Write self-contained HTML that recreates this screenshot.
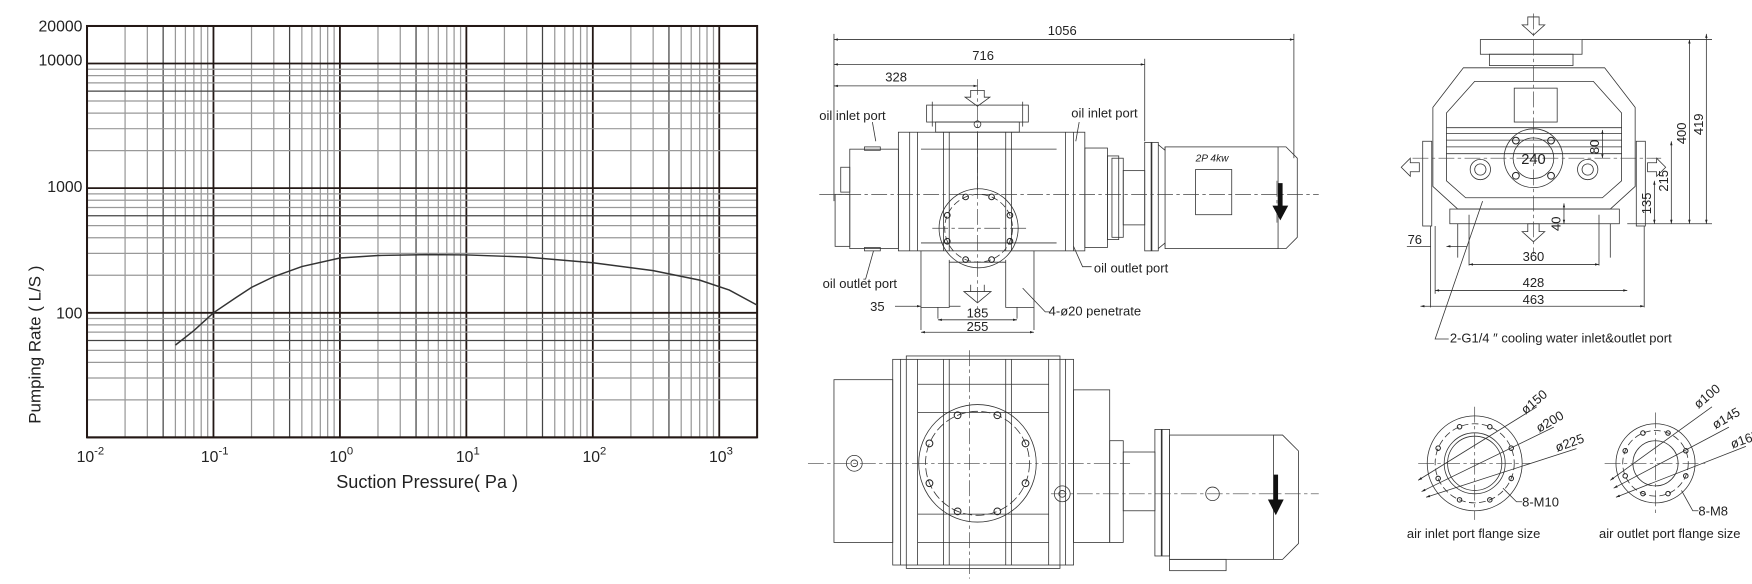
<!DOCTYPE html>
<html><head><meta charset="utf-8"><style>
html,body{margin:0;padding:0;background:#fff;}
svg{display:block;}
text{font-family:"Liberation Sans",sans-serif;fill:#222;}
</style></head><body>
<svg id="s" width="1752" height="584" viewBox="0 0 1550.4 516.8" xmlns="http://www.w3.org/2000/svg">
<defs>
<marker id="ar" viewBox="0 0 10 10" refX="10" refY="5" markerWidth="7" markerHeight="5" orient="auto-start-reverse"><path d="M0,2 L10,5 L0,8 z" fill="#222"/></marker>
</defs>
<g id="grid"></g>
<rect x="77" y="23" width="593" height="364" fill="none" stroke="#231815" stroke-width="1.8"/>
<path id="curve" fill="none" stroke="#333" stroke-width="1.3"/>
<g font-size="14" text-anchor="end">
<text x="73" y="28">20000</text><text x="73" y="58">10000</text><text x="73" y="170">1000</text><text x="73" y="282">100</text>
</g>
<g font-size="14" text-anchor="middle">
<text x="80" y="409">10<tspan dy="-7" font-size="10">-2</tspan></text>
<text x="190" y="409">10<tspan dy="-7" font-size="10">-1</tspan></text>
<text x="302" y="409">10<tspan dy="-7" font-size="10">0</tspan></text>
<text x="414" y="409">10<tspan dy="-7" font-size="10">1</tspan></text>
<text x="526" y="409">10<tspan dy="-7" font-size="10">2</tspan></text>
<text x="638" y="409">10<tspan dy="-7" font-size="10">3</tspan></text>
<text x="378" y="432" font-size="16">Suction Pressure( Pa )</text>
<text transform="translate(36,305) rotate(-90)" font-size="15">Pumping Rate ( L/S )</text>
</g>

<g fill="none" stroke="#333" stroke-width="0.7">
<line x1="738" y1="35" x2="1145" y2="35" marker-start="url(#ar)" marker-end="url(#ar)"/>
<line x1="738" y1="57" x2="1013" y2="57" marker-start="url(#ar)" marker-end="url(#ar)"/>
<line x1="738" y1="76" x2="865" y2="76" marker-start="url(#ar)" marker-end="url(#ar)"/>
<line x1="738" y1="30" x2="738" y2="178"/><line x1="1145" y1="30" x2="1145" y2="140"/><line x1="1013" y1="52" x2="1013" y2="125"/>
<path d="M859,80 h12 v6 h5 l-11,8 l-11,-8 h5z"/>
<rect x="820" y="93" width="90" height="15"/><rect x="828" y="108" width="74" height="9"/>
<line x1="825" y1="90" x2="825" y2="112"/><line x1="905" y1="90" x2="905" y2="112"/>
<circle cx="865" cy="110" r="3"/>
<rect x="795" y="117" width="165" height="105"/>
<line x1="805" y1="117" x2="805" y2="222"/><line x1="812" y1="117" x2="812" y2="222"/>
<line x1="835" y1="117" x2="835" y2="222"/><line x1="840" y1="117" x2="840" y2="222"/>
<line x1="890" y1="117" x2="890" y2="222"/><line x1="895" y1="117" x2="895" y2="222"/>
<line x1="943" y1="117" x2="943" y2="222"/><line x1="950" y1="117" x2="950" y2="222"/>
<line x1="815" y1="132" x2="935" y2="132"/><line x1="815" y1="215" x2="935" y2="215"/>
<line x1="865" y1="117" x2="865" y2="168"/>
<rect x="752" y="132" width="43" height="88"/><rect x="744" y="148" width="8" height="22"/>
<rect x="739" y="172" width="13" height="46"/>
<rect x="765" y="130" width="14" height="3"/><rect x="765" y="219" width="14" height="3"/>
<rect x="960" y="131" width="20" height="88"/><rect x="980" y="138" width="10" height="74"/><rect x="984" y="140" width="10" height="70"/>
<rect x="994" y="151" width="19" height="48"/>
<rect x="1013" y="126" width="12" height="96"/><line x1="1019" y1="126" x2="1019" y2="222" stroke-width="1.4"/>
<path d="M1025,128 l6,5 v-3 M1025,220 l6,-5 v3"/>
<rect x="1031" y="130" width="100" height="90"/>
<path d="M1131,130 h7 l10,10 v70 l-10,10 h-7"/>
<rect x="1058" y="150" width="32" height="40"/>
<path d="M815,222 v50 h25 v-42 M890,230 v42 h25 v-50"/>
<path d="M830,272 v10 M900,272 v10 M815,272 v20 M915,272 v20"/>
<path d="M840,232 h50"/>
<path d="M859,258 h12 v-6 M859,258 v-6 M853,258 l12,10 l12,-10z" />
<line x1="830" y1="283" x2="900" y2="283" marker-start="url(#ar)" marker-end="url(#ar)"/>
<line x1="815" y1="294" x2="915" y2="294" marker-start="url(#ar)" marker-end="url(#ar)"/>
<line x1="792" y1="271" x2="815" y2="271" marker-end="url(#ar)"/><line x1="840" y1="271" x2="850" y2="271"/>
<path d="M905,255 l20,21 h4" /><path d="M772,108 l3,17"/><path d="M955,108 l-3,17"/>
<path d="M773,222 l-7,25 h-2"/><path d="M950,218 l8,18 h8"/>
</g>
<g stroke="#444" stroke-width="0.6" fill="none" stroke-dasharray="14,3,3,3">
<line x1="725" y1="172" x2="1167" y2="172"/><line x1="865" y1="70" x2="865" y2="275"/>
<line x1="825" y1="202" x2="908" y2="202"/>
<line x1="1130" y1="160" x2="1130" y2="200"/>
</g>
<g fill="none" stroke="#333" stroke-width="0.7"><circle cx="866" cy="202" r="35"/><circle cx="866" cy="202" r="30" stroke-dasharray="6,3"/></g>
<g id="boltsA"></g>
<path d="M1131,162 h4 v20 h5 l-7,13 l-7,-13 h5z" fill="#111"/>
<text x="1058" y="143" font-size="9" font-style="italic">2P 4kw</text>
<g font-size="11.5" text-anchor="middle">
<text x="940" y="31">1056</text><text x="870" y="53">716</text><text x="793" y="72">328</text>
<text x="865" y="281">185</text><text x="865" y="293">255</text>
</g>
<g font-size="11.5">
<text x="770" y="275">35</text><text x="928" y="279">4-ø20 penetrate</text>
<text x="725" y="106">oil inlet port</text><text x="948" y="104">oil inlet port</text>
<text x="728" y="255">oil outlet port</text><text x="968" y="241">oil outlet port</text>
</g>

<g fill="none" stroke="#333" stroke-width="0.7">
<rect x="738" y="336" width="52" height="144"/>
<rect x="790" y="318" width="160" height="182"/>
<rect x="802" y="315" width="136" height="188"/>
<line x1="797" y1="318" x2="797" y2="500"/><line x1="943" y1="318" x2="943" y2="500"/>
<line x1="812" y1="318" x2="812" y2="500"/><line x1="928" y1="318" x2="928" y2="500"/>
<line x1="835" y1="318" x2="835" y2="500"/><line x1="840" y1="318" x2="840" y2="500"/>
<line x1="890" y1="318" x2="890" y2="500"/><line x1="895" y1="318" x2="895" y2="500"/>
<path d="M812,340 h116 M812,365 h116 M812,455 h116 M812,480 h116"/>
<circle cx="865" cy="410" r="52"/><circle cx="865" cy="410" r="46" stroke-dasharray="8,3"/>
<circle cx="756" cy="410" r="7"/><circle cx="756" cy="410" r="3"/>
<circle cx="940" cy="437" r="7"/><circle cx="940" cy="437" r="3"/>
<rect x="950" y="345" width="32" height="135"/><rect x="982" y="390" width="12" height="90"/>
<rect x="994" y="400" width="28" height="52"/>
<rect x="1022" y="380" width="13" height="112"/><line x1="1028" y1="380" x2="1028" y2="492" stroke-width="1.4"/>
<rect x="1035" y="385" width="92" height="110"/>
<path d="M1127,385 h8 l14,14 v82 l-14,14 h-8"/>
<rect x="1035" y="495" width="50" height="10"/>
<circle cx="1073" cy="437" r="6"/>
</g>
<g id="boltsB"></g>
<g stroke="#444" stroke-width="0.6" fill="none" stroke-dasharray="14,3,3,3">
<line x1="715" y1="410" x2="1000" y2="410"/><line x1="858" y1="310" x2="858" y2="512"/>
<line x1="930" y1="437" x2="1167" y2="437"/>
</g>
<path d="M1127,420 h4 v22 h5 l-7,14 l-7,-14 h5z" fill="#111"/>

<g fill="none" stroke="#333" stroke-width="0.7">
<path d="M1352,15 h10 v7 h5 l-10,9 l-10,-9 h5z"/>
<rect x="1310" y="35" width="90" height="13"/><rect x="1318" y="48" width="74" height="10"/>
<path d="M1268,95 L1295,60 H1420 L1447,95 V165 L1425,185 H1290 L1268,165 Z"/>
<path d="M1280,100 L1305,72 H1410 L1435,100 V160 L1418,175 H1297 L1280,160 Z"/>
<rect x="1340" y="78" width="38" height="30"/>
<path d="M1280,113 H1435 M1280,118 H1435 M1280,124 H1435 M1280,130 H1435 M1280,136 H1435"/>
<circle cx="1357" cy="140" r="26"/><circle cx="1357" cy="140" r="18"/>
<circle cx="1310" cy="150" r="9"/><circle cx="1310" cy="150" r="5"/>
<circle cx="1405" cy="150" r="9"/><circle cx="1405" cy="150" r="5"/>
<rect x="1259" y="125" width="8" height="75"/><rect x="1448" y="125" width="8" height="75"/>
<path d="M1240,148 l8,-8 v4 h8 v8 h-8 v4z"/><path d="M1474,148 l-8,-8 v4 h-8 v8 h8 v4z"/>
<rect x="1283" y="185" width="150" height="13"/>
<path d="M1290,198 v30 M1425,198 v30 M1300,190 v45 M1415,190 v45"/>
<path d="M1352,198 h10 v7 h5 l-10,9 l-10,-9 h5z"/>
<line x1="1300" y1="234" x2="1415" y2="234" marker-start="url(#ar)" marker-end="url(#ar)"/>
<line x1="1270" y1="257" x2="1440" y2="257" marker-start="url(#ar)" marker-end="url(#ar)"/>
<line x1="1257" y1="271" x2="1455" y2="271" marker-start="url(#ar)" marker-end="url(#ar)"/>
<line x1="1245" y1="218" x2="1266" y2="218"/><line x1="1280" y1="218" x2="1298" y2="218" marker-start="url(#ar)"/>
<path d="M1266,200 v72 M1455,200 v72 M1270,200 v60"/>
<line x1="1495" y1="35" x2="1495" y2="198" marker-start="url(#ar)" marker-end="url(#ar)"/>
<line x1="1510" y1="30" x2="1510" y2="198" marker-start="url(#ar)" marker-end="url(#ar)"/>
<line x1="1479" y1="125" x2="1479" y2="198" marker-start="url(#ar)" marker-end="url(#ar)"/>
<line x1="1464" y1="160" x2="1464" y2="198" marker-start="url(#ar)" marker-end="url(#ar)"/>
<line x1="1418" y1="115" x2="1418" y2="140" marker-start="url(#ar)" marker-end="url(#ar)"/>
<line x1="1384" y1="180" x2="1384" y2="198" marker-start="url(#ar)" marker-end="url(#ar)"/>
<path d="M1400,35 H1515 M1440,198 H1515"/>
<path d="M1312,178 L1270,300 H1282"/>
</g>
<g stroke="#444" stroke-width="0.6" fill="none" stroke-dasharray="14,3,3,3">
<line x1="1357" y1="12" x2="1357" y2="225"/><line x1="1250" y1="140" x2="1470" y2="140"/>
</g>
<g font-size="11.5" text-anchor="middle">
<text x="1357" y="231">360</text><text x="1357" y="254">428</text><text x="1357" y="269">463</text>
<text x="1357" y="145" font-size="13">240</text>
<text x="1252" y="216">76</text>
<text transform="translate(1492,118) rotate(-90)">400</text>
<text transform="translate(1507,110) rotate(-90)">419</text>
<text transform="translate(1476,160) rotate(-90)">215</text>
<text transform="translate(1461,180) rotate(-90)">135</text>
<text transform="translate(1415,130) rotate(-90)">80</text>
<text transform="translate(1381,198) rotate(-90)">40</text>
</g>
<text x="1283" y="303" font-size="11.5">2-G1/4 ″  cooling water inlet&amp;outlet port</text>

<g fill="none" stroke="#333" stroke-width="0.7">
<circle cx="1305" cy="410" r="42"/><circle cx="1305" cy="410" r="35" stroke-dasharray="6,3"/>
<circle cx="1305" cy="410" r="27"/><circle cx="1305" cy="410" r="24"/>
<circle cx="1465" cy="410" r="35"/><circle cx="1465" cy="410" r="29" stroke-dasharray="6,3"/>
<circle cx="1465" cy="410" r="20"/>
<line x1="1255" y1="425" x2="1360" y2="360" marker-start="url(#ar)"/>
<line x1="1258" y1="435" x2="1375" y2="378" marker-start="url(#ar)"/>
<line x1="1262" y1="440" x2="1395" y2="397" marker-start="url(#ar)"/>
<line x1="1425" y1="425" x2="1515" y2="360" marker-start="url(#ar)"/>
<line x1="1428" y1="432" x2="1530" y2="378" marker-start="url(#ar)"/>
<line x1="1430" y1="440" x2="1545" y2="395" marker-start="url(#ar)"/>
<path d="M1330,432 l12,12 h5"/><path d="M1488,434 l10,18 h5"/>
</g>
<g stroke="#444" stroke-width="0.6" fill="none" stroke-dasharray="14,3,3,3">
<line x1="1255" y1="410" x2="1355" y2="410"/><line x1="1305" y1="360" x2="1305" y2="460"/>
<line x1="1420" y1="410" x2="1510" y2="410"/><line x1="1465" y1="365" x2="1465" y2="455"/>
</g>
<g id="boltsC"></g>
<g font-size="11.5">
<text transform="translate(1350,367) rotate(-40)">ø150</text>
<text transform="translate(1362,383) rotate(-30)">ø200</text>
<text transform="translate(1378,400) rotate(-20)">ø225</text>
<text transform="translate(1503,362) rotate(-40)">ø100</text>
<text transform="translate(1518,380) rotate(-30)">ø145</text>
<text transform="translate(1533,397) rotate(-20)">ø165</text>
<text x="1347" y="448">8-M10</text><text x="1503" y="456">8-M8</text>
<text x="1245" y="476">air inlet port flange size</text>
<text x="1415" y="476">air outlet port flange size</text>
</g>
</svg>
<script>
var NS="http://www.w3.org/2000/svg";
function el(p,t,a){var e=document.createElementNS(NS,t);for(var k in a)e.setAttribute(k,a[k]);p.appendChild(e);return e;}
var g=document.getElementById("grid");
var L=77,R=670,T=23,B=387;
function X(p){return L+111.9*(Math.log10(p)+2);}
function Y(r){return T+110.3*(Math.log10(20000)-Math.log10(r));}
for(var d=-2;d<=3;d++)for(var m=1;m<=9;m++){var v=m*Math.pow(10,d);if(v>2000)continue;var x=X(v);
 el(g,"line",{x1:x,y1:T,x2:x,y2:B,stroke:m==1?"#231815":(m==4?"#444":"#999"),"stroke-width":m==1?1.6:1.1});}
for(var d=1;d<=4;d++)for(var m=1;m<=9;m++){var v=m*Math.pow(10,d);if(v>20000)continue;var y=Y(v);
 el(g,"line",{x1:L,y1:y,x2:R,y2:y,stroke:m==1?"#231815":(m==6?"#444":"#999"),"stroke-width":m==1?1.6:1.1});}
var pts=[[0.05,55],[0.07,72],[0.1,100],[0.15,132],[0.2,160],[0.3,195],[0.5,235],[1,275],[2,288],[5,293],[10,291],[30,280],[100,252],[300,218],[700,183],[1200,152],[2000,115]];
var dd="";pts.forEach(function(p,i){dd+=(i?"L":"M")+X(p[0]).toFixed(1)+","+Y(p[1]).toFixed(1);});
document.getElementById("curve").setAttribute("d",dd);
function bolts(id,cx,cy,r,n,br,off){var p=document.getElementById(id);for(var i=0;i<n;i++){var a=(off+i*360/n)*Math.PI/180;
 el(p,"circle",{cx:cx+r*Math.cos(a),cy:cy+r*Math.sin(a),r:br,fill:"none",stroke:"#222","stroke-width":0.9});}}
bolts("boltsA",866,202,30,8,2.5,22.5);
bolts("boltsB",865,410,46,8,3,22.5);
bolts("boltsC",1305,410,35,8,2,22.5);
bolts("boltsC",1465,410,29,8,2,22.5);
bolts("boltsC",1357,140,22,4,3,45);
</script>
</body></html>
